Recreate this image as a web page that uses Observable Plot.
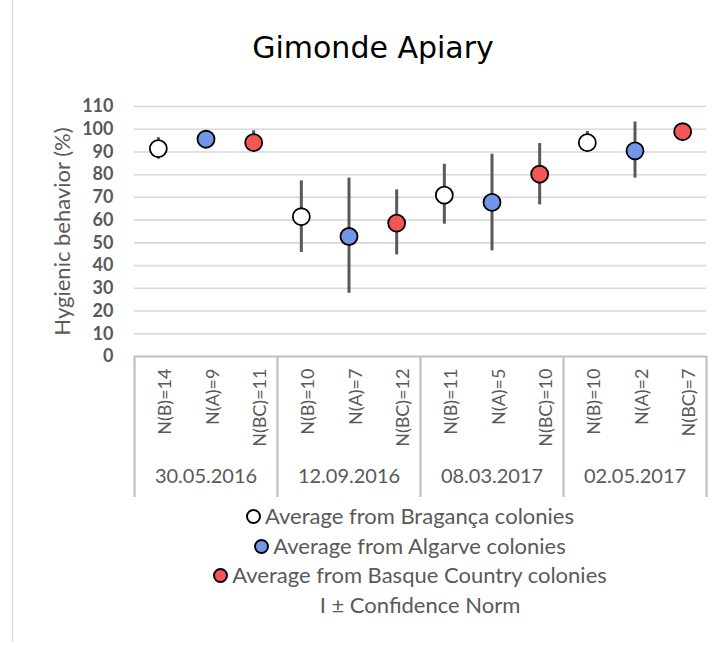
<!DOCTYPE html>
<html><head><meta charset="utf-8">
<script src="https://cdn.jsdelivr.net/npm/d3@7"></script>
<script src="https://cdn.jsdelivr.net/npm/@observablehq/plot@0.6"></script>
<style>
body{margin:0;background:#fff;font-family:Lato,"Open Sans",sans-serif;}
#chart{position:relative;width:724px;height:646px;overflow:hidden;background:#fff;}
#frame{position:absolute;left:12px;top:0;bottom:4px;border-left:1px solid #d9d9d9;}
#title{position:absolute;left:0;width:746px;top:30px;text-align:center;font-family:"DejaVu Sans",sans-serif;font-size:30px;line-height:36px;color:#000;}
#main{position:absolute;left:0;top:80px;}
#cats{position:absolute;left:0;top:356px;}
#legend{position:absolute;left:134px;width:572px;top:501px;text-align:center;color:#595959;font-size:22px;line-height:29.5px;}
#legend .row{position:relative;left:-10px;}
.mk{display:inline-block;width:11px;height:11px;border:2px solid #000;border-radius:50%;vertical-align:0px;margin-right:4px;}
</style>
</head><body>
<div id="chart">
  <div id="frame"></div>
  <div id="title"></div>
  <div id="main"></div>
  <div id="cats"></div>
  <div id="legend"></div>
</div>
<script>
const titleText = "Gimonde Apiary";
const yLabel = "Hygienic behavior (%)";
const dates = ["30.05.2016", "12.09.2016", "08.03.2017", "02.05.2017"];
const origins = ["Bragança", "Algarve", "Basque Country"];
const originColors = ["#ffffff", "#7296E8", "#F45658"];
const legendLabels = ["Average from Bragança colonies", "Average from Algarve colonies", "Average from Basque Country colonies"];
const errorLegend = "I ± Confidence Norm";
const nLabels = ["N(B)=14", "N(A)=9", "N(BC)=11", "N(B)=10", "N(A)=7", "N(BC)=12", "N(B)=11", "N(A)=5", "N(BC)=10", "N(B)=10", "N(A)=2", "N(BC)=7"];
const means = [91.5, 95.6, 94.1, 61.5, 52.8, 58.7, 71.0, 67.8, 80.2, 94.1, 90.5, 98.9];
const lower = [86.8, 93.6, 90.5, 45.8, 27.8, 44.7, 58.2, 46.5, 66.7, 90.0, 78.5, 96.9];
const upper = [96.3, 97.6, 99.3, 77.3, 78.5, 73.3, 84.6, 89.0, 93.7, 99.0, 103.2, 100.9];
const yTicks = [0, 10, 20, 30, 40, 50, 60, 70, 80, 90, 100, 110];

const rows = nLabels.map((n, i) => ({
  i, n, mean: means[i], lo: lower[i], hi: upper[i],
  origin: origins[i % origins.length], date: dates[Math.floor(i / origins.length)]
}));
const groups = dates.map((date, g) => ({date, center: g * origins.length + (origins.length - 1) / 2}));
const bounds = dates.map((d, g) => g * origins.length - 0.5).concat([rows.length - 0.5]);
const xDomain = [-0.5, rows.length - 0.5];
const font = "Lato, 'Open Sans', sans-serif";

document.getElementById("title").textContent = titleText;

const main = Plot.plot({
  width: 724, height: 278,
  marginTop: 26, marginBottom: 2, marginLeft: 134, marginRight: 18,
  style: {background: "transparent", fontFamily: font, overflow: "visible"},
  x: {domain: xDomain, axis: null},
  y: {domain: [0, 110]},
  color: {domain: origins, range: originColors},
  marks: [
    Plot.ruleY(yTicks.filter(t => t > 0), {stroke: "#d9d9d9", strokeWidth: 1.6}),
    Plot.axisY(yTicks, {tickSize: 0, tickPadding: 21, fontSize: 18, fontWeight: "bold", fill: "#595959", label: null}),
    Plot.ruleY([0], {stroke: "#bfbfbf", strokeWidth: 2.2}),
    Plot.ruleX(rows, {x: "i", y1: "lo", y2: "hi", stroke: "#595959", strokeWidth: 3}),
    Plot.dot(rows, {x: "i", y: "mean", r: 8.5, fill: "origin", stroke: "#000", strokeWidth: 1.8}),
    Plot.text([yLabel], {text: d => d, frameAnchor: "left", textAnchor: "middle", rotate: -90, dx: -72, fontSize: 22, fill: "#595959"})
  ]
});
document.getElementById("main").appendChild(main);

const cats = Plot.plot({
  width: 724, height: 141,
  marginTop: 0, marginBottom: 0, marginLeft: 134, marginRight: 18,
  style: {background: "transparent", fontFamily: font, overflow: "visible"},
  x: {domain: xDomain, axis: null},
  marks: [
    Plot.ruleX(bounds, {stroke: "#bfbfbf", strokeWidth: 2.2}),
    Plot.text(rows, {x: "i", text: "n", frameAnchor: "top", rotate: -90, textAnchor: "end", dy: 12, fontSize: 18, fill: "#595959"}),
    Plot.text(groups, {x: "center", text: "date", frameAnchor: "bottom", dy: -15, fontSize: 20, fill: "#595959"})
  ]
});
document.getElementById("cats").appendChild(cats);

const legend = document.getElementById("legend");
legendLabels.forEach((lab, k) => {
  const div = document.createElement("div");
  div.className = "row";
  const mk = document.createElement("span");
  mk.className = "mk";
  mk.style.background = originColors[k];
  div.appendChild(mk);
  div.appendChild(document.createTextNode(lab));
  legend.appendChild(div);
});
const ed = document.createElement("div");
ed.textContent = errorLegend;
legend.appendChild(ed);
</script>
</body></html>
